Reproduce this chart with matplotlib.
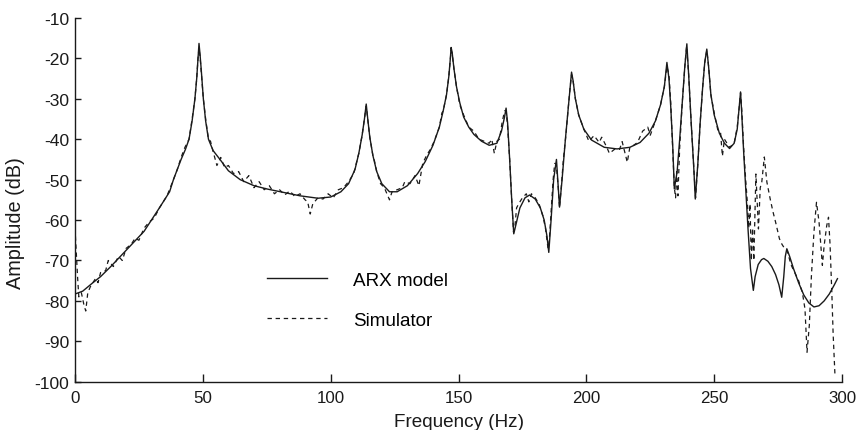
import matplotlib
matplotlib.use("Agg")
import matplotlib.pyplot as plt

plt.rcParams['font.family'] = ['Liberation Sans', 'DejaVu Sans']
plt.rcParams['axes.unicode_minus'] = False

# ARX model (solid)
arx_freq = [0, 3, 7, 10, 14, 20, 27, 33, 37, 38.5, 41.5, 43.2, 44.6, 45.8, 46.9, 47.6, 48.1, 48.5,
            48.9, 49.4, 50.2, 51.1, 52.2, 54, 56.7, 60, 64.6, 70, 75, 88, 95, 100, 104, 107, 109.5,
            111, 112.3, 113.2, 113.9, 114.5, 115.3, 116.5, 118, 120, 123, 126, 130, 134, 137, 140,
            142.5, 144, 145.3, 146.2, 146.8, 147.1, 147.5, 148.2, 149.2, 150.5, 152, 154, 156, 159,
            162, 165, 166.8, 168, 168.6, 169.2, 170, 170.8, 171.6, 172.5, 174, 176, 177.8, 180, 182,
            183.5, 184.6, 185.3, 186.2, 187.2, 188.3, 189, 189.5, 190.5, 191.8, 192.8, 193.6, 194.2,
            194.8, 195.7, 197, 199, 202, 207, 212, 217, 221, 224.5, 227, 229, 230.5, 231.5, 232.3,
            233, 233.8, 234.4, 235.5, 236.5, 237.5, 238.5, 239.3, 240, 241, 242, 242.6, 243.6, 244.5,
            245.5, 246.3, 247.1, 247.8, 248.7, 250, 252, 254, 256, 257.8, 259, 259.8, 260.3, 260.8,
            261.5, 262.3, 263.2, 264.2, 265.3, 266, 267.2, 268.5, 269.4, 271, 272.5, 274, 275.3, 276.4,
            277.2, 277.8, 278.4, 279.5, 281, 283, 285, 287, 289, 291, 293, 295, 297, 298.2]
arx_db = [-78.3, -77.6, -75.5, -74.0, -71.5, -67.5, -62.8, -57.0, -53.0, -50.0, -45.0, -42.5, -40.0,
          -35.5, -30.0, -25.0, -20.0, -16.3, -19.0, -23.0, -30.0, -35.5, -40.0, -42.8, -45.0, -47.8,
          -50.0, -51.5, -52.3, -54.0, -54.6, -54.3, -53.0, -51.0, -47.5, -43.5, -39.0, -35.0, -31.3,
          -35.0, -39.5, -44.0, -48.0, -51.0, -53.0, -53.0, -51.5, -48.5, -45.5, -41.5, -37.0, -33.0,
          -29.0, -24.5, -20.0, -17.3, -18.5, -22.5, -27.0, -31.0, -34.5, -37.0, -38.8, -40.5, -41.5,
          -41.0, -38.0, -34.5, -32.3, -36.0, -45.0, -55.0, -63.4, -61.0, -57.0, -54.5, -53.8, -54.8,
          -57.0, -60.0, -64.0, -68.0, -60.0, -50.0, -45.0, -52.0, -56.8, -50.0, -40.0, -33.0, -27.5,
          -23.4, -25.5, -30.0, -34.0, -37.5, -40.2, -42.0, -42.4, -42.0, -40.8, -38.5, -35.5, -31.5,
          -27.0, -21.0, -25.0, -32.0, -42.0, -52.3, -48.0, -40.0, -31.0, -22.0, -16.4, -24.0, -36.0,
          -47.0, -54.8, -46.0, -36.0, -27.0, -21.0, -17.7, -22.0, -29.0, -34.0, -38.5, -41.0, -42.3,
          -41.0, -37.5, -32.0, -28.3, -34.0, -43.0, -52.0, -62.0, -72.0, -77.4, -74.0, -71.0, -69.8,
          -69.5, -70.2, -71.5, -73.5, -76.0, -79.1, -74.0, -69.0, -67.1, -69.0, -72.0, -75.5, -78.5,
          -80.5, -81.5, -81.2, -80.0, -78.3, -76.0, -74.5]

# Simulator (dashed)
sim_freq = [0, 0.5, 1, 1.5, 2.5, 3.5, 4.2, 5, 6, 8, 9, 10, 12, 13, 15, 17, 18.5, 20, 22, 23.5, 25,
            27, 29, 31, 33, 34, 36, 38.5, 40, 41.5, 43, 44.6, 45.8, 46.9, 47.6, 48.1, 48.5, 48.9, 49.4,
            50.2, 51.1, 52.2, 53, 54, 55.5, 57, 58.5, 60, 62, 64, 66, 68, 70, 72, 74, 76, 78, 80,
            82, 84, 86, 88, 90, 91, 92, 93, 95, 97, 99, 101, 103, 105, 107, 109, 111, 112.3, 113.2,
            113.9, 114.5, 115.3, 116.5, 117, 118, 119.5, 121, 123, 124, 126, 128, 129, 131, 133, 134.5,
            136, 137.5, 139, 140.5, 142.5, 143.5, 144, 145.3, 146.2, 146.8, 147.1, 147.5, 148.2, 149.2,
            150.5, 152, 154, 156, 158, 160, 162, 163, 164, 165, 166, 167, 168, 168.6, 169.2, 170, 170.8,
            171.5, 172, 172.7, 173.5, 175, 176.5, 177.5, 178.5, 180, 181.5, 183, 184, 185, 185.5, 186.2,
            187, 187.6, 188.2, 189, 189.5, 190.3, 191, 192, 192.8, 193.6, 194.2, 194.8, 195.7, 197, 199,
            201, 203, 205, 206, 208, 209, 211, 213, 214, 215, 216, 217, 218.5, 220, 222, 224, 225, 227,
            229, 230.5, 231.5, 232.3, 233, 233.8, 234.4, 234.9, 235.3, 235.8, 236.5, 237.5, 238.5,
            239.2, 240, 241, 242, 242.7, 243.6, 244.5, 245.5, 246.3, 247.1, 247.8, 248.7, 250, 251.5,
            252.5, 253.2, 254, 256, 257.8, 259, 259.8, 260.3, 260.8, 261.5, 262.3, 263, 263.5, 264,
            264.5, 265, 265.5, 266.3, 267.3, 268, 268.6, 269.6, 270.6, 271.9, 273, 274, 275.5, 276.5,
            277.5, 278.5, 280, 281.5, 283, 284.5, 285.5, 286.3, 287.2, 288, 289, 290, 291, 291.8,
            292.3, 293, 294, 294.7, 295.3, 296, 296.5, 297.2]
sim_db = [-62.0, -68.0, -74.0, -79.0, -78.0, -81.0, -82.5, -78.0, -76.5, -74.5, -75.5, -73.0, -72.5,
          -70.0, -71.5, -69.0, -70.0, -67.0, -66.0, -64.5, -65.0, -62.0, -60.5, -59.5, -57.0, -56.0,
          -54.0, -50.0, -47.5, -44.5, -42.0, -40.0, -35.0, -30.0, -25.0, -20.0, -17.5, -19.5, -23.5,
          -30.0, -35.0, -40.0, -40.5, -43.0, -46.5, -44.5, -47.0, -46.5, -48.5, -48.0, -50.5,
          -49.0, -52.0, -50.5, -52.5, -51.5, -53.5, -52.5, -53.8, -52.8, -54.2, -53.5, -55.0, -55.5,
          -58.5, -56.0, -54.5, -54.8, -53.5, -54.5, -52.5, -52.0, -50.5, -48.5, -43.5, -39.0, -35.0,
          -31.8, -35.0, -39.5, -44.0, -45.0, -48.0, -51.0, -52.0, -55.0, -53.0, -52.5, -52.0, -50.5,
          -51.0, -49.0, -51.5, -46.0, -44.0, -42.5, -40.5, -37.0, -33.5, -33.0, -29.0, -24.5, -20.0,
          -18.0, -18.8, -22.5, -27.0, -31.5, -34.0, -37.0, -38.0, -40.0, -40.5, -41.0, -40.0, -43.5,
          -40.5, -40.0, -36.0, -33.0, -33.0, -37.0, -45.0, -55.0, -63.0, -62.0, -57.0, -56.0, -54.5,
          -53.5, -55.5, -53.5, -54.5, -56.0, -59.0, -62.0, -67.0, -65.0, -58.0, -50.0, -46.0, -46.0,
          -52.0, -57.0, -51.0, -45.0, -39.0, -33.0, -27.5, -24.0, -25.5, -30.0, -34.0, -37.5, -40.5,
          -39.1, -40.8, -39.5, -42.0, -43.5, -42.5, -42.5, -40.6, -43.2, -45.7, -42.0, -41.5, -40.8,
          -38.0, -37.0, -39.0, -35.5, -31.5, -27.0, -22.0, -24.0, -31.0, -43.0, -52.0, -54.5, -48.0,
          -54.0, -42.0, -31.0, -22.0, -17.0, -24.0, -36.0, -47.0, -54.5, -46.0, -36.0, -27.0, -21.0,
          -18.0, -22.0, -29.0, -33.5, -38.0, -38.5, -44.2, -40.0, -42.0, -41.0, -37.0, -32.0, -28.5,
          -33.0, -42.0, -50.0, -56.0, -62.0, -56.0, -70.0, -62.0, -70.0, -48.6, -62.2, -52.0, -50.6,
          -44.4, -50.6, -54.8, -58.0, -60.5, -64.6, -66.0, -67.0, -67.5, -71.0, -73.0, -75.0, -78.0,
          -82.0, -92.7, -86.0, -74.0, -63.0, -55.6, -60.5, -67.1, -71.2, -66.3, -61.4, -59.3, -66.0,
          -78.0, -88.0, -98.0]

fig = plt.figure(figsize=(8.61, 4.31), dpi=100)
ax = fig.add_axes([0.0871, 0.112, 0.8909, 0.844])

ax.plot(arx_freq, arx_db, color='#1a1a1a', lw=1.0, label='ARX model')
ax.plot(sim_freq, sim_db, color='#1a1a1a', lw=0.9, ls=(0, (3.5, 3)), label='Simulator')

ax.set_xlim(0, 300)
ax.set_ylim(-100, -10)
ax.set_xticks([0, 50, 100, 150, 200, 250, 300])
ax.set_yticks(list(range(-100, 0, 10)))
ax.spines['top'].set_visible(False)
ax.spines['right'].set_visible(False)
for s in ('left', 'bottom'):
    ax.spines[s].set_linewidth(1.0)
    ax.spines[s].set_color('#1a1a1a')
ax.tick_params(axis='x', direction='in', length=6, width=1.0, labelsize=12.2, pad=6, colors='#1a1a1a')
ax.tick_params(axis='y', direction='in', length=4.5, width=1.0, labelsize=12.6, pad=4, colors='#1a1a1a')
ax.set_xlabel('Frequency (Hz)', fontsize=13.6, labelpad=6, color='#1a1a1a')
ax.set_ylabel('Amplitude (dB)', fontsize=14.3, color='#1a1a1a')
ax.yaxis.set_label_coords(-0.065, 0.44)

ax.legend(frameon=False, loc='center left', bbox_to_anchor=(0.25, 0.2246),
          borderaxespad=0, borderpad=0, handlelength=3.2, handletextpad=1.35,
          labelspacing=1.2, fontsize=13.6)

fig.savefig('out.png', dpi=100)
